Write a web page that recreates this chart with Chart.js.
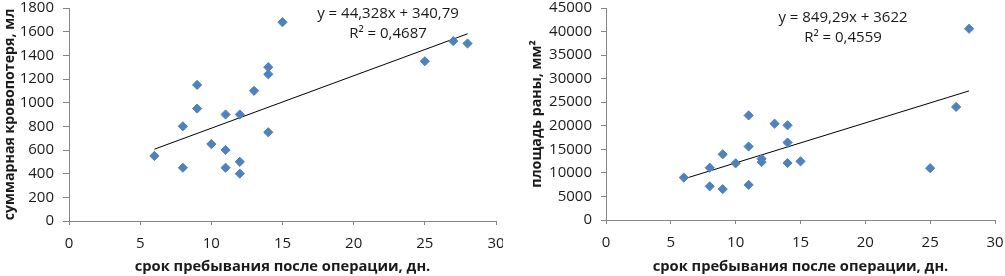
<!DOCTYPE html>
<html>
<head>
<meta charset="utf-8">
<script src="https://cdn.jsdelivr.net/npm/chart.js@4"></script>
<style>
  html, body { margin: 0; padding: 0; background: #fff; }
  .box { position: absolute; top: 0; height: 276px; }
  #box1 { left: 0; width: 503px; }
  #box2 { left: 503px; width: 502px; }
</style>
</head>
<body>
<div class="box" id="box1"><canvas id="chart1"></canvas></div>
<div class="box" id="box2"><canvas id="chart2"></canvas></div>
<script>
// days after surgery (x) for each patient
const daysLoss = [6, 8, 8, 9, 9, 10, 11, 11, 11, 12, 12, 12, 13, 14, 14, 14, 15, 25, 27, 28];
const bloodLoss = [550, 450, 800, 1150, 950, 650, 900, 600, 450, 900, 500, 400, 1100, 1300, 1240, 750, 1680, 1350, 1520, 1500];

const daysWound = [6, 8, 8, 9, 9, 10, 11, 11, 11, 12, 12, 13, 14, 14, 14, 15, 25, 27, 28];
const woundArea = [9000, 11100, 7150, 13950, 6550, 12030, 22200, 15600, 7450, 13000, 12300, 20450, 20100, 16450, 12100, 12450, 11000, 24000, 40600];

// linear trend lines as printed on the charts
const trendLoss = { slope: 44.328, intercept: 340.79, from: 6, to: 28 };
const trendWound = { slope: 849.29, intercept: 3622, from: 6, to: 28 };

const xTicks = [0, 5, 10, 15, 20, 25, 30];
const lossTicks = [0, 200, 400, 600, 800, 1000, 1200, 1400, 1600, 1800];
const woundTicks = [0, 5000, 10000, 15000, 20000, 25000, 30000, 35000, 40000, 45000];

const xTitle = "срок пребывания после операции, дн.";
const lossTitle = "суммарная кровопотеря, мл";
const woundTitle = "площадь раны, мм²";
const lossEq = ["y = 44,328x + 340,79", "R² = 0,4687"];
const woundEq = ["y = 849,29x + 3622", "R² = 0,4559"];

const FONT = "'Open Sans', 'Noto Sans', sans-serif";
const pointColor = "#4F81BD";
const axisColor = "#868686";
const textColor = "#1a1a1a";

function trendPoints(t) {
    return [
        { x: t.from, y: t.slope * t.from + t.intercept },
        { x: t.to, y: t.slope * t.to + t.intercept }
    ];
}

// draws the equation / R² text
const eqPlugin = {
    id: "eq",
    afterDraw(chart, args, opts) {
        const ctx = chart.ctx;
        ctx.save();
        ctx.font = "15px " + FONT;
        ctx.fillStyle = textColor;
        ctx.textAlign = "center";
        ctx.textBaseline = "middle";
        opts.lines.forEach((line, i) => {
            ctx.fillText(line, opts.x, opts.y + i * opts.gap);
        });
        ctx.restore();
    }
};

function makeChart(id, xs, ys, trend, yTicks, yMax, yTitle, eq, dims) {
    const ctx = document.getElementById(id).getContext("2d");
    return new Chart(ctx, {
        type: "scatter",
        data: {
            datasets: [
                {
                    label: "points",
                    data: xs.map((x, i) => ({ x: x, y: ys[i] })),
                    pointStyle: "rectRot",
                    pointRadius: 4.6,
                    backgroundColor: pointColor,
                    borderColor: pointColor,
                    borderWidth: 1
                },
                {
                    label: "trend",
                    type: "line",
                    data: trendPoints(trend),
                    borderColor: "#000",
                    borderWidth: 1,
                    pointRadius: 0,
                    fill: false
                }
            ]
        },
        options: {
            responsive: true,
            maintainAspectRatio: false,
            animation: false,
            layout: { padding: { left: 0, right: dims.right, top: 8, bottom: 0 } },
            plugins: {
                legend: { display: false },
                tooltip: { enabled: false },
                eq: { lines: eq, x: dims.eqX, y: dims.eqY, gap: 20 }
            },
            scales: {
                x: {
                    type: "linear",
                    min: 0,
                    max: 30,
                    afterBuildTicks: (s) => { s.ticks = xTicks.map(v => ({ value: v })); },
                    afterFit: (s) => { s.height = dims.xh; s.paddingLeft = 0; s.paddingRight = 0; },
                    grid: { drawOnChartArea: false, drawTicks: true, tickLength: 4, color: axisColor },
                    border: { color: axisColor },
                    ticks: { color: textColor, padding: 10, font: { family: FONT, size: 15 }, callback: (v) => String(v) },
                    title: {
                        display: true,
                        text: xTitle,
                        color: textColor,
                        font: { family: FONT, size: 14.7, weight: "bold" },
                        padding: { top: 0, bottom: 0 }
                    }
                },
                y: {
                    type: "linear",
                    min: 0,
                    max: yMax,
                    afterBuildTicks: (s) => { s.ticks = yTicks.map(v => ({ value: v })); },
                    afterFit: (s) => { s.width = dims.yw; s.paddingTop = 0; s.paddingBottom = 0; },
                    grid: { drawOnChartArea: false, drawTicks: true, tickLength: dims.tl, color: axisColor },
                    border: { color: axisColor },
                    ticks: { color: textColor, padding: 9, font: { family: FONT, size: 15 }, callback: (v) => String(v) },
                    title: {
                        display: true,
                        text: yTitle,
                        color: textColor,
                        font: { family: FONT, size: 14.2, weight: "bold" },
                        padding: { top: dims.yTitlePad, bottom: 0 }
                    }
                }
            }
        },
        plugins: [eqPlugin]
    });
}

makeChart("chart1", daysLoss, bloodLoss, trendLoss, lossTicks, 1800, lossTitle, lossEq,
    { right: 7, xh: 55, yw: 69, tl: 6, yTitlePad: 1.5, eqX: 388, eqY: 14 });
makeChart("chart2", daysWound, woundArea, trendWound, woundTicks, 45000, woundTitle, woundEq,
    { right: 10, xh: 56, yw: 103, tl: 5, yTitlePad: 25.5, eqX: 340, eqY: 17.5 });
</script>
</body>
</html>
